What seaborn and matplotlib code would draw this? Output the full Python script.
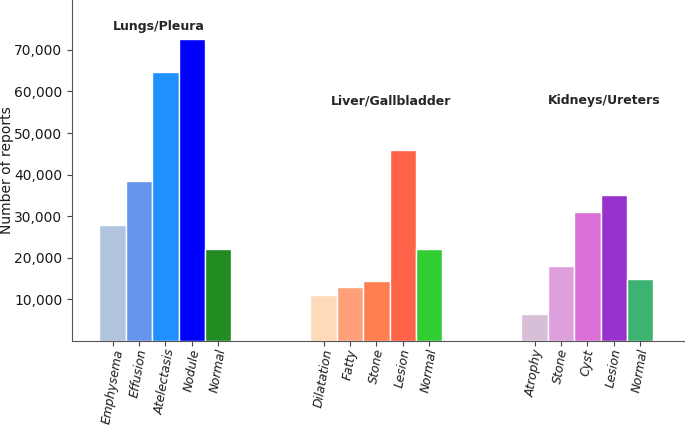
import matplotlib
matplotlib.use("Agg")
import matplotlib.pyplot as plt
import seaborn as sns
import pandas as pd
from matplotlib.ticker import FuncFormatter

# Data
groups = ["Lungs/Pleura", "Liver/Gallbladder", "Kidneys/Ureters"]
lungs_labels = ["Emphysema", "Effusion", "Atelectasis", "Nodule", "Normal"]
lungs_values = [27900, 38500, 64700, 72600, 22100]
liver_labels = ["Dilatation", "Fatty", "Stone", "Lesion", "Normal"]
liver_values = [11100, 13000, 14500, 45800, 22100]
kidney_labels = ["Atrophy", "Stone", "Cyst", "Lesion", "Normal"]
kidney_values = [6400, 18000, 31000, 35000, 14800]

lungs_colors = ["#B0C4DE", "#6495ED", "#1E90FF", "#0000FF", "#228B22"]
liver_colors = ["#FFDAB9", "#FFA07A", "#FF7F50", "#FF6347", "#32CD32"]
kidney_colors = ["#D8BFD8", "#DDA0DD", "#DA70D6", "#9932CC", "#3CB371"]

labels = lungs_labels + liver_labels + kidney_labels
values = lungs_values + liver_values + kidney_values
colors = lungs_colors + liver_colors + kidney_colors
positions = list(range(0, 5)) + list(range(8, 13)) + list(range(16, 21))

df = pd.DataFrame({"pos": positions, "value": values, "label": labels})

sns.set_style("ticks")
fig = plt.figure(figsize=(6.85, 4.25), dpi=100)
ax = fig.add_axes([0.105, 0.198, 0.895, 0.802])

palette = {p: c for p, c in zip(positions, colors)}
sns.barplot(data=df, x="pos", y="value", hue="pos", palette=palette,
            native_scale=True, width=1.0, legend=False, ax=ax,
            edgecolor="white", linewidth=1, saturation=1)

ax.set_xlim(-1.54, 21.7)
ax.set_ylim(0, 82000)
ax.set_xticks(positions)
ax.set_xticklabels(labels, rotation=80, fontstyle="italic", fontsize=8.8)
ax.set_yticks([10000, 20000, 30000, 40000, 50000, 60000, 70000])
ax.yaxis.set_major_formatter(FuncFormatter(lambda v, p: f"{int(v):,}"))
ax.tick_params(axis="y", labelsize=10)
ax.tick_params(axis="x", pad=1.5)
ax.tick_params(axis="both", colors="#444444", labelcolor="#1a1a1a")
for s in ax.spines.values():
    s.set_color("#555555")
ax.set_xlabel("")
ax.set_ylabel("Number of reports", fontsize=10, color="#1a1a1a")
ax.yaxis.set_label_coords(-0.094, 0.5)
sns.despine(ax=ax)

ax.text(1.74, 75700, groups[0], ha="center", va="center", fontweight="bold", fontsize=9)
ax.text(10.54, 57800, groups[1], ha="center", va="center", fontweight="bold", fontsize=9)
ax.text(18.64, 57800, groups[2], ha="center", va="center", fontweight="bold", fontsize=9)

fig.savefig("out.png", dpi=100)
